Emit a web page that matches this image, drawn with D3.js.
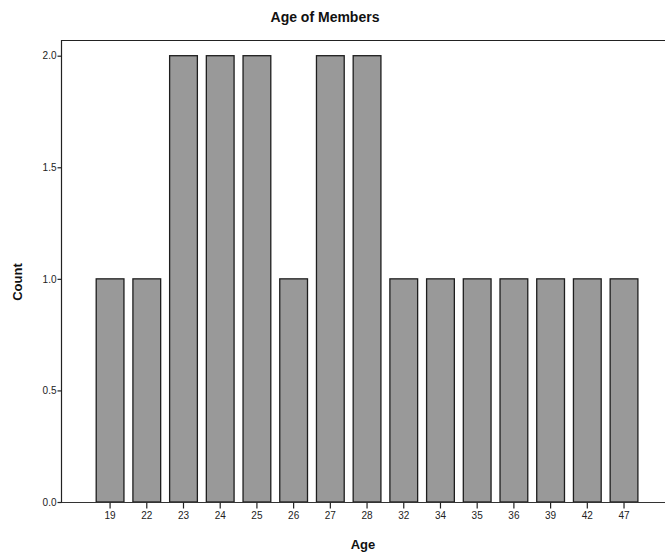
<!DOCTYPE html>
<html><head><meta charset="utf-8">
<script src="https://cdn.jsdelivr.net/npm/d3@7"></script>
<style>body{margin:0;background:#fff}svg{display:block}text{font-family:"Liberation Sans",Arial,sans-serif}</style>
</head><body><svg id="c" width="665" height="557"></svg>
<script>
const ages = ["19","22","23","24","25","26","27","28","32","34","35","36","39","42","47"];
const counts = [1,1,2,2,2,1,2,2,1,1,1,1,1,1,1];
const yTicks = [0,0.5,1.0,1.5,2.0];

const svg = d3.select("#c");
const pLeft = 61, pRight = 665, pTop = 40, pBottom = 502;
const x = d3.scaleBand().domain(ages).range([96.2, 637.9]).paddingInner(0.244).paddingOuter(0);
const y = d3.scaleLinear().domain([0,2]).range([pBottom, 55.7]);

// frame
svg.append("line").attr("x1",pLeft).attr("x2",pRight).attr("y1",pTop+0.5).attr("y2",pTop+0.5).attr("stroke","#222").attr("stroke-width",1.2);
svg.append("line").attr("x1",pLeft+0.5).attr("x2",pLeft+0.5).attr("y1",pTop).attr("y2",pBottom).attr("stroke","#222").attr("stroke-width",1.2);

svg.selectAll("rect.bar").data(ages).enter().append("rect").attr("class","bar")
  .attr("x",d=>x(d)).attr("width",x.bandwidth())
  .attr("y",(d,i)=>y(counts[i])).attr("height",(d,i)=>pBottom-y(counts[i]))
  .attr("fill","#999999").attr("stroke","#1e1e1e").attr("stroke-width",1.3);

svg.append("line").attr("x1",pLeft).attr("x2",pRight).attr("y1",pBottom+0.5).attr("y2",pBottom+0.5).attr("stroke","#333").attr("stroke-width",1.2);

const ya = svg.append("g").attr("transform",`translate(${pLeft+0.5},0)`)
  .call(d3.axisLeft(y).tickValues(yTicks).tickFormat(d3.format(".1f")).tickSize(4).tickPadding(1));
ya.select(".domain").remove();
ya.selectAll("line").attr("stroke","#222").attr("stroke-width",1.2);
ya.selectAll("text").attr("font-size","10px").attr("fill","#222").attr("font-family","Liberation Sans, Arial, sans-serif");

const xa = svg.append("g").attr("transform",`translate(0,${pBottom+0.5})`)
  .call(d3.axisBottom(x).tickSize(6).tickPadding(3));
xa.select(".domain").remove();
xa.selectAll("line").attr("stroke","#222").attr("stroke-width",1.2);
xa.selectAll("text").attr("font-size","10px").attr("fill","#222").attr("font-family","Liberation Sans, Arial, sans-serif");

svg.append("text").attr("x",325).attr("y",22).attr("text-anchor","middle").attr("font-size","14px").attr("font-weight","bold").attr("fill","#111").text("Age of Members");
svg.append("text").attr("x",363).attr("y",549).attr("text-anchor","middle").attr("font-size","13px").attr("font-weight","bold").attr("fill","#111").text("Age");
svg.append("text").attr("transform","translate(22,282) rotate(-90)").attr("text-anchor","middle").attr("font-size","13px").attr("font-weight","bold").attr("fill","#111").text("Count");
</script></body></html>
